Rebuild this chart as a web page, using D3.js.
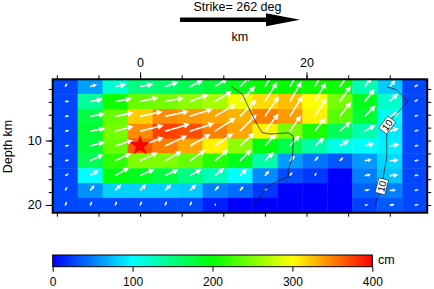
<!DOCTYPE html>
<html>
<head>
<meta charset="utf-8">
<script src="https://cdn.jsdelivr.net/npm/d3@7"></script>
<style>
body{margin:0;background:#fff;}
text{font-family:"Liberation Sans",Arial,Helvetica,sans-serif;fill:#000;}
</style>
</head>
<body>
<script>
// slip in cm, one row per down-dip cell (shallow first), 15 cells along strike
var slipRows=[
  [28, 62,118,150,158,168,178,190,200,200,205,205,130, 80,28],
  [28,140,205,240,245,255,265,295,315,325,300,245,188,120,28],
  [28,175,240,320,345,340,335,330,350,340,305,235,180,105,28],
  [28,180,245,345,375,370,350,335,305,248,210,165,132, 92,28],
  [28,178,240,365,350,335,305,255,195,170,135,110,100, 95,28],
  [28,168,218,250,250,240,215,190,135, 62, 45, 35, 60, 85,28],
  [28,100,195,188,175,150,128,100, 55, 30, 22,  0, 50, 78,28],
  [28, 57, 82, 82, 82, 80, 50, 42, 22,  0,  0,  0, 38, 50,28],
  [28, 30, 30, 30, 30, 30, 12,  0,  0,  0,  0,  0, 25, 35,28]
];
// rake in degrees, same layout
var rakeRows=[
  [60,20,13,12,20,27,34,45,58,60,60,55,55,50,30],
  [ 5,11,10,12,11,20,32,45,58,60,60,55,52,45,30],
  [ 5,10,11,12,12,18,30,45,55,58,58,52,45,20,20],
  [10,11,15,14,16,18,33,45,52,55,52,42,30,18,15],
  [10,15,18,20,25,30,35,42,48,48,42,32,15,10,10],
  [15,25,25,25,30,35,40,45,45,45,50,45,10, 5,10],
  [30,32,30,25,25,30,40,45,50,55,60,45,10, 5,10],
  [60,50,45,45,45,45,50,50,45,45,45,45,10, 5,10],
  [65,65,65,65,65,65,60,45,45,45,45,45,10,10,10]
];
var cellX0=-10.5, cellW=3;     // km along strike
var cellD0=0.5, cellH=2.3;     // km depth
var hypo=[0,10.8];             // km, depth km

// rupture time contour (10 s), km along strike / depth km
var contourLevels=[10];
var contourA=[[11.0,1.65],[12.3,2.8],[13.3,5.6],[14.2,7.8],[14.7,8.8],[15.7,9.0],[17.8,8.8],[18.4,9.3],[18.4,10.2],[18.3,12.6],[17.8,14.6],[17.8,15.7],[16.8,16.1],[15.3,17.2],[14.4,18.8],[13.5,20.05]];
var contourB=[[29.64,1.65],[30.88,2.16],[32.16,3.98],[30.72,6.04],[29.76,7.13],[29.52,8.06],[29.64,8.99],[29.64,12.56],[29.28,15.2],[29.04,17.06],[28.55,18.92],[28.19,20.05]];
var contourLabelPts=[[29.7,7.6],[29.05,17.1]];

var xMajor=[0,20], xMinor=[-10,-5,0,5,10,15,20,25,30];
var yMajor=[10,20], yMinor=[2,4,6,8,10,12,14,16,18,20];
var cbTicks=[0,100,200,300,400];
var cbStops=[0,100,200,300,400];
var cbColors=["#0000ff","#00ffff","#00ff00","#ffff00","#ff0000"];

var W=434,H=289;
var svg=d3.select("body").append("svg").attr("width",W).attr("height",H);

var x=d3.scaleLinear().domain([-10.5,34.5]).range([52.7,427.2]);
var y=d3.scaleLinear().domain([0.5,21.2]).range([79.3,212.7]);
var color=d3.scaleLinear().domain(cbStops).range(cbColors).clamp(true);
var arrowLen=d3.scalePow().exponent(0.7).domain([0,400]).range([0,27]);

var cells=[];
slipRows.forEach(function(row,r){
  row.forEach(function(s,c){
    cells.push({r:r,c:c,slip:s,rake:rakeRows[r][c]});
  });
});

svg.append("defs").append("clipPath").attr("id","plotclip")
  .append("rect").attr("x",x.range()[0]).attr("y",y.range()[0])
  .attr("width",x.range()[1]-x.range()[0]).attr("height",y.range()[1]-y.range()[0]);

// slip cells
svg.append("g").selectAll("rect").data(cells).enter().append("rect")
  .attr("x",function(d){return x(cellX0+d.c*cellW);})
  .attr("y",function(d){return y(cellD0+d.r*cellH);})
  .attr("width",function(d){return x(cellX0+(d.c+1)*cellW)-x(cellX0+d.c*cellW)+0.4;})
  .attr("height",function(d){return y(cellD0+(d.r+1)*cellH)-y(cellD0+d.r*cellH)+0.4;})
  .style("fill",function(d){return color(d.slip);});

// slip vectors
var vec=svg.append("g").attr("clip-path","url(#plotclip)");
cells.forEach(function(d){
  var x0=x(cellX0+(d.c+0.5)*cellW), y0=y(cellD0+(d.r+0.5)*cellH);
  var L=arrowLen(d.slip); if(L<0.5) return;
  var a=d.rake*Math.PI/180, ca=Math.cos(a), sa=Math.sin(a);
  var h=Math.min(6,L*0.55), w=h*0.5;
  var x1=x0+L*ca, y1=y0-L*sa;
  var bx=x1-h*ca, by=y1+h*sa;
  vec.append("path").attr("d","M"+x0+","+y0+"L"+bx+","+by)
    .style("stroke","#fff").style("stroke-width",1.6).style("fill","none");
  vec.append("path").attr("d","M"+x1+","+y1+"L"+(bx+w*sa)+","+(by+w*ca)+"L"+(bx-w*sa)+","+(by-w*ca)+"Z")
    .style("fill","#fff");
});

// rupture time contours
var line=d3.line().x(function(p){return x(p[0]);}).y(function(p){return y(p[1]);});
[contourA,contourB].forEach(function(c){
  svg.append("path").attr("d",line(c))
    .style("fill","none").style("stroke","#111").style("stroke-width",0.7);
});
contourLabelPts.forEach(function(p){
  var best=0,bd=1e9;
  contourB.forEach(function(q,i){var dd=Math.hypot(q[0]-p[0],q[1]-p[1]); if(dd<bd){bd=dd;best=i;}});
  var a=contourB[Math.max(best-1,0)], b=contourB[Math.min(best+1,contourB.length-1)];
  var ang=Math.atan2(y(b[1])-y(a[1]),x(b[0])-x(a[0]))*180/Math.PI;
  if(ang>90) ang-=180; if(ang<-90) ang+=180;
  var g=svg.append("g").attr("transform","translate("+x(p[0])+","+y(p[1])+") rotate("+ang+")");
  g.append("rect").attr("x",-7.5).attr("y",-5).attr("width",15).attr("height",10)
    .style("fill","#fff").style("stroke","#000").style("stroke-width",0.5);
  g.append("text").attr("text-anchor","middle").attr("y",3.6)
    .style("font-size","10px").text(contourLevels[0]);
});

// hypocenter
svg.append("path")
  .attr("d",d3.symbol().type(d3.symbolStar).size(115)())
  .attr("transform","translate("+x(hypo[0])+","+y(hypo[1])+")")
  .style("fill","#ff0000").style("stroke","#cc0000").style("stroke-width",0.5);

// axes
function styleAxis(g){
  g.select(".domain").remove();
  g.selectAll("line").style("stroke","#000").style("stroke-width",1);
  g.selectAll("text").style("font-size","12.5px").style("font-family","Liberation Sans, Arial, sans-serif");
}
var x0p=x.range()[0], x1p=x.range()[1], y0p=y.range()[0], y1p=y.range()[1];
svg.append("g").attr("transform","translate(0,"+y0p+")")
  .call(d3.axisTop(x).tickValues(xMinor).tickSize(4).tickFormat("")).call(styleAxis);
svg.append("g").attr("transform","translate(0,"+y0p+")")
  .call(d3.axisTop(x).tickValues(xMajor).tickSize(7).tickPadding(5)).call(styleAxis);
svg.append("g").attr("transform","translate(0,"+y1p+")")
  .call(d3.axisBottom(x).tickValues(xMinor).tickSize(4).tickFormat("")).call(styleAxis);
svg.append("g").attr("transform","translate("+x0p+",0)")
  .call(d3.axisLeft(y).tickValues(yMinor).tickSize(4).tickFormat("")).call(styleAxis);
svg.append("g").attr("transform","translate("+x0p+",0)")
  .call(d3.axisLeft(y).tickValues(yMajor).tickSize(7).tickPadding(4)).call(styleAxis);
svg.append("g").attr("transform","translate("+x1p+",0)")
  .call(d3.axisRight(y).tickValues(yMinor).tickSize(4).tickFormat("")).call(styleAxis);

// frame
svg.append("rect").attr("x",x0p).attr("y",y0p).attr("width",x1p-x0p).attr("height",y1p-y0p)
  .style("fill","none").style("stroke","#000").style("stroke-width",2);

// titles
svg.append("text").attr("x",(x0p+x1p)/2).attr("y",40.5).attr("text-anchor","middle")
  .style("font-size","12.5px").text("km");
svg.append("text").attr("transform","translate(11.5,146.5) rotate(-90)").attr("text-anchor","middle")
  .style("font-size","12.5px").text("Depth km");
svg.append("text").attr("x",237.5).attr("y",10.5).attr("text-anchor","middle")
  .style("font-size","12.5px").text("Strike= 262 deg");
svg.append("rect").attr("x",180).attr("y",17.5).attr("width",88).attr("height",4.5).style("fill","#000");
svg.append("path").attr("d","M266,13.3L300,19.7L266,26.3Z").style("fill","#000");

// colour bar
var cb=d3.scaleLinear().domain([0,400]).range([52.7,372.3]);
var grad=svg.select("defs").append("linearGradient").attr("id","cbgrad");
d3.range(0,401,20).forEach(function(v){
  grad.append("stop").attr("offset",(v/400*100)+"%").attr("stop-color",color(v));
});
svg.append("rect").attr("x",cb(0)).attr("y",255).attr("width",cb(400)-cb(0)).attr("height",11.7)
  .style("fill","url(#cbgrad)").style("stroke","#000").style("stroke-width",1);
var cbAxis=svg.append("g").attr("transform","translate(0,266.7)")
  .call(d3.axisBottom(cb).tickValues(cbTicks).tickSize(5).tickPadding(6)).call(styleAxis);
cbAxis.selectAll("text").style("font-size","12px");
svg.append("text").attr("x",378).attr("y",263.5).style("font-size","12.5px").text("cm");
</script>
</body>
</html>
